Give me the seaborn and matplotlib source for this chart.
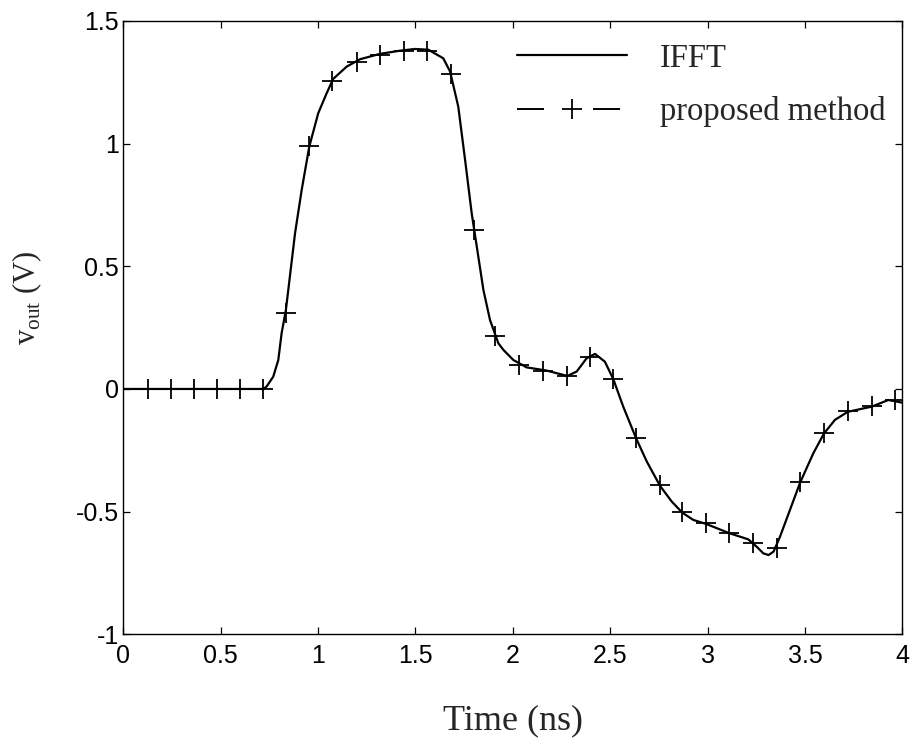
import numpy as np
import matplotlib
matplotlib.use("Agg")
import matplotlib.pyplot as plt
from matplotlib.lines import Line2D
import seaborn as sns

# IFFT reference waveform
t_ifft = [0.0, 0.30, 0.60, 0.72, 0.736, 0.770, 0.796, 0.813, 0.835, 0.882, 0.916, 0.955,
          1.001, 1.044, 1.078, 1.147, 1.215, 1.318, 1.421, 1.498, 1.566, 1.643, 1.678,
          1.720, 1.755, 1.789, 1.823, 1.849, 1.883, 1.926, 1.952, 2.003, 2.071, 2.174,
          2.280, 2.328, 2.379, 2.422, 2.473, 2.516, 2.567, 2.633, 2.688, 2.756, 2.816,
          2.870, 2.927, 2.992, 3.112, 3.209, 3.252, 3.286, 3.313, 3.339, 3.372, 3.423,
          3.475, 3.543, 3.598, 3.654, 3.720, 3.843, 3.928, 4.0]
v_ifft = [0.0, 0.0, 0.0, 0.0, 0.01, 0.05, 0.118, 0.227, 0.322, 0.635, 0.811, 0.988,
          1.124, 1.205, 1.264, 1.314, 1.344, 1.366, 1.379, 1.386, 1.383, 1.348, 1.294,
          1.151, 0.934, 0.716, 0.539, 0.404, 0.281, 0.186, 0.159, 0.118, 0.088, 0.075,
          0.053, 0.071, 0.125, 0.143, 0.111, 0.040, -0.072, -0.201, -0.296, -0.395, -0.459,
          -0.504, -0.534, -0.550, -0.588, -0.613, -0.643, -0.670, -0.677, -0.663, -0.602, -0.493,
          -0.382, -0.262, -0.181, -0.126, -0.093, -0.072, -0.045, -0.056]

# proposed method samples
t_prop = [0.125, 0.243, 0.361, 0.480, 0.599, 0.719, 0.834, 0.955, 1.073, 1.198, 1.318,
          1.442, 1.561, 1.681, 1.801, 1.909, 2.033, 2.157, 2.280, 2.398, 2.516, 2.633,
          2.756, 2.870, 2.992, 3.112, 3.235, 3.355, 3.475, 3.598, 3.720, 3.843, 3.963]
v_prop = [0.0, 0.0, 0.0, 0.0, 0.0, 0.0, 0.309, 0.990, 1.257, 1.332, 1.362,
          1.377, 1.379, 1.285, 0.650, 0.217, 0.099, 0.072, 0.051, 0.130, 0.041, -0.199,
          -0.393, -0.501, -0.548, -0.586, -0.629, -0.647, -0.380, -0.179, -0.091, -0.071, -0.043]

x_ticks = [0, 0.5, 1, 1.5, 2, 2.5, 3, 3.5, 4]
y_ticks = [-1, -0.5, 0, 0.5, 1, 1.5]
x_ticklabels = ['0', '0.5', '1', '1.5', '2', '2.5', '3', '3.5', '4']
y_ticklabels = ['-1', '-0.5', '0', '0.5', '1', '1.5']

sns.set_style("ticks")
plt.rcParams['font.family'] = ['Liberation Sans', 'DejaVu Sans']
plt.rcParams['mathtext.fontset'] = 'custom'
plt.rcParams['mathtext.rm'] = 'Liberation Serif'
serif = ['Liberation Serif', 'DejaVu Serif']

fig = plt.figure(figsize=(9.11, 7.5), dpi=100)
ax = fig.add_axes([0.1353, 0.1543, 0.8552, 0.8177])

sns.lineplot(x=t_ifft, y=v_ifft, ax=ax, color='black', linewidth=1.6, sort=False)
# the proposed-method trace sits on top of the IFFT curve, only its markers show
sns.lineplot(x=t_prop, y=v_prop, ax=ax, color='black', linestyle='none',
             marker='+', markersize=15, markeredgewidth=1.3,
             markeredgecolor='black', sort=False)

ax.set_xlim(0, 4)
ax.set_ylim(-1, 1.5)
ax.set_xticks(x_ticks)
ax.set_xticklabels(x_ticklabels)
ax.set_yticks(y_ticks)
ax.set_yticklabels(y_ticklabels)
ax.tick_params(direction='in', top=True, right=True, length=5, width=0.9,
               labelsize=18, colors='black')
ax.tick_params(axis='x', pad=7)
ax.tick_params(axis='y', pad=3)
for s in ax.spines.values():
    s.set_linewidth(1.0)
    s.set_color('black')

ax.set_xlabel('Time (ns)', fontsize=26, family=serif)
ax.set_ylabel(r'v$_{\mathrm{out}}$ (V)', fontsize=22, family=serif)
ax.xaxis.set_label_coords(0.5, -0.115)
ax.yaxis.set_label_coords(-0.102, 0.548)

handles = [Line2D([], [], color='black', linewidth=1.6),
           Line2D([], [], color='black', linewidth=1.4, linestyle=(0, (13.9, 25.2)),
                  marker='+', markersize=15, markeredgewidth=1.3)]
ax.legend(handles, ['IFFT', 'proposed method'], loc='upper left',
          bbox_to_anchor=(0.468, 1.012), frameon=False,
          prop={'family': serif, 'size': 23.5}, handlelength=3.37,
          handletextpad=1.01, labelspacing=0.7, numpoints=1)

fig.savefig('out.png', dpi=100)
